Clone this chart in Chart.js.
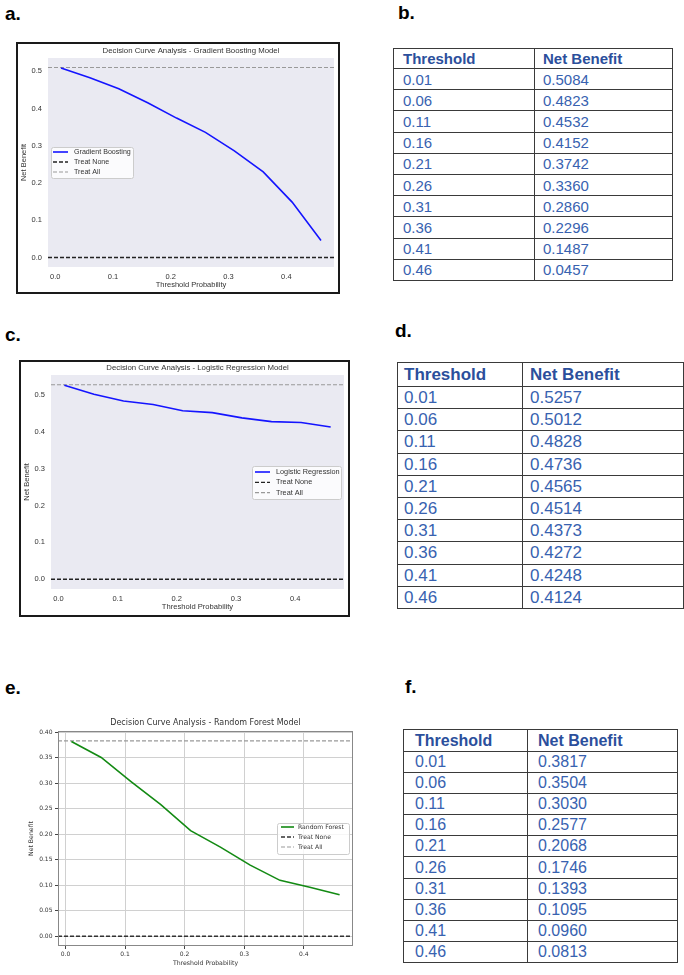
<!DOCTYPE html>
<html>
<head>
<meta charset="utf-8">
<script src="https://cdn.jsdelivr.net/npm/chart.js@4.4.0/dist/chart.umd.min.js"></script>
<style>
  body { margin: 0; width: 684px; height: 975px; position: relative; overflow: hidden; background: #fff;
         font-family: "Liberation Sans", Arial, sans-serif; }
  .tag { position: absolute; font-weight: bold; font-size: 19px; line-height: 1; color: #000; }
  .frame { position: absolute; border: 2px solid #1a1a1a; box-sizing: border-box; background: #fff; }
  canvas { display: block; }
  .plain { position: absolute; }
  table.tbl { position: absolute; border-collapse: collapse; table-layout: fixed; color: #3862b0; }
  table.tbl td { border: 1px solid #3a3a3a; padding: 0; white-space: nowrap; vertical-align: middle; line-height: 1; }
  table.tbl tr.hd td { font-weight: bold; color: #2b4f9c; }
</style>
</head>
<body>

<div class="tag" style="left:5px;top:4px">a.</div>
<div class="tag" style="left:398px;top:3px">b.</div>
<div class="tag" style="left:5px;top:325px">c.</div>
<div class="tag" style="left:395px;top:321px">d.</div>
<div class="tag" style="left:5px;top:678px">e.</div>
<div class="tag" style="left:405px;top:677px">f.</div>

<div class="frame" style="left:16px;top:42px;width:324px;height:252px"><canvas id="chartGB" width="320" height="248"></canvas></div>
<div class="frame" style="left:19px;top:360px;width:331px;height:257px"><canvas id="chartLR" width="327" height="253"></canvas></div>
<div class="plain" style="left:20px;top:710px"><canvas id="chartRF" width="340" height="265"></canvas></div>

<table class="tbl" id="tblGB"></table>
<table class="tbl" id="tblLR"></table>
<table class="tbl" id="tblRF"></table>

<script>
// =======================================================
// DADOS
// =======================================================
const thresholds = [0.01, 0.06, 0.11, 0.16, 0.21, 0.26, 0.31, 0.36, 0.41, 0.46];
const netBenefitGB = [0.5084, 0.4823, 0.4532, 0.4152, 0.3742, 0.3360, 0.2860, 0.2296, 0.1487, 0.0457];
const netBenefitLR = [0.5257, 0.5012, 0.4828, 0.4736, 0.4565, 0.4514, 0.4373, 0.4272, 0.4248, 0.4124];
const netBenefitRF = [0.3817, 0.3504, 0.3030, 0.2577, 0.2068, 0.1746, 0.1393, 0.1095, 0.0960, 0.0813];

const treatAllGB = 0.510;
const treatAllLR = 0.527;
const treatAllRF = 0.383;
const treatNone = 0;

// eixos
const xMin = -0.0125, xMax = 0.4825;
const xTicks = [0.0, 0.1, 0.2, 0.3, 0.4];
const yTicksGB = [0.0, 0.1, 0.2, 0.3, 0.4, 0.5];
const yTicksLR = [0.0, 0.1, 0.2, 0.3, 0.4, 0.5];
const yTicksRF = [0.00, 0.05, 0.10, 0.15, 0.20, 0.25, 0.30, 0.35, 0.40];

// =======================================================
// PLUGIN: fundo, moldura, título e legenda estilo matplotlib
// =======================================================
const dcaDecor = {
    id: 'dcaDecor',
    beforeDraw(chart, args, opts) {
        const { ctx, chartArea: a } = chart;
        if (opts.plotBg) {
            ctx.save();
            ctx.fillStyle = opts.plotBg;
            ctx.fillRect(a.left, a.top, a.right - a.left, a.bottom - a.top);
            ctx.restore();
        }
    },
    afterDraw(chart, args, opts) {
        const { ctx, chartArea: a } = chart;
        ctx.save();
        if (opts.spine) {
            ctx.strokeStyle = opts.spine;
            ctx.lineWidth = 1;
            ctx.strokeRect(a.left + 0.5, a.top + 0.5, a.right - a.left - 1, a.bottom - a.top - 1);
        }
        // título centrado sobre a área do gráfico
        ctx.font = opts.titleFont;
        ctx.fillStyle = opts.textColor;
        ctx.textAlign = 'center';
        ctx.textBaseline = 'middle';
        ctx.fillText(opts.title, (a.left + a.right) / 2, a.top - opts.titleGap);

        // legenda
        const L = opts.legend;
        ctx.fillStyle = 'rgba(255,255,255,0.8)';
        ctx.strokeStyle = '#cccccc';
        ctx.lineWidth = 1;
        ctx.beginPath();
        ctx.roundRect(L.x + 0.5, L.y + 0.5, L.w, L.h, 2);
        ctx.fill();
        ctx.stroke();
        ctx.font = L.font;
        ctx.textAlign = 'left';
        chart.data.datasets.forEach((ds, i) => {
            const y = L.y + L.first + i * L.step;
            ctx.strokeStyle = ds.borderColor;
            ctx.lineWidth = ds.borderWidth;
            ctx.setLineDash(ds.borderDash || []);
            ctx.beginPath();
            ctx.moveTo(L.x + L.s0, y);
            ctx.lineTo(L.x + L.s1, y);
            ctx.stroke();
            ctx.setLineDash([]);
            ctx.fillStyle = opts.textColor;
            ctx.fillText(ds.label, L.x + L.tx, y);
        });
        ctx.restore();
    }
};

function buildDatasets(label, color, values, treatAll, noneColor, allColor) {
    return [
        { label: label, data: thresholds.map((t, i) => ({ x: t, y: values[i] })),
          borderColor: color, borderWidth: 1.6 },
        { label: 'Treat None', data: [{ x: xMin, y: treatNone }, { x: xMax, y: treatNone }],
          borderColor: noneColor, borderWidth: 1.3, borderDash: [4, 2] },
        { label: 'Treat All', data: [{ x: xMin, y: treatAll }, { x: xMax, y: treatAll }],
          borderColor: allColor, borderWidth: 1.2, borderDash: [4, 2] }
    ];
}

function renderDcaChart(id, cfg) {
    const tickFont = { family: cfg.family, size: cfg.tickSize };
    const labelFont = { family: cfg.family, size: cfg.labelSize };
    const gridOpts = cfg.grid
        ? { display: true, color: '#d0d0d0', lineWidth: 1, drawTicks: true, tickLength: 3, tickColor: '#444' }
        : { display: false, drawTicks: false };

    new Chart(document.getElementById(id), {
        type: 'line',
        data: { datasets: cfg.datasets },
        options: {
            responsive: false,
            animation: false,
            events: [],
            layout: { padding: { top: cfg.padTop, right: cfg.padRight, left: 0, bottom: 0 } },
            elements: { point: { radius: 0 }, line: { tension: 0 } },
            scales: {
                x: {
                    type: 'linear', min: xMin, max: xMax,
                    afterBuildTicks: s => { s.ticks = xTicks.map(v => ({ value: v })); },
                    afterFit: s => { s.height = cfg.xAxisH; },
                    grid: gridOpts,
                    border: { display: false },
                    ticks: { font: tickFont, color: cfg.tickColor, padding: cfg.xTickPad, autoSkip: false,
                             maxRotation: 0, callback: v => v.toFixed(1) },
                    title: { display: true, text: 'Threshold Probability', font: labelFont, color: cfg.tickColor,
                             padding: { top: 0, bottom: cfg.xTitlePad } }
                },
                y: {
                    type: 'linear', min: cfg.yMin, max: cfg.yMax,
                    afterBuildTicks: s => { s.ticks = cfg.yTicks.map(v => ({ value: v })); },
                    afterFit: s => { s.width = cfg.yAxisW; },
                    grid: gridOpts,
                    border: { display: false },
                    ticks: { font: tickFont, color: cfg.tickColor, padding: cfg.yTickPad, autoSkip: false,
                             callback: v => v.toFixed(cfg.yDecimals) },
                    title: { display: true, text: 'Net Benefit', font: labelFont, color: cfg.tickColor,
                             padding: { top: cfg.yTitlePad, bottom: 0 } }
                }
            },
            plugins: {
                legend: { display: false },
                tooltip: { enabled: false },
                dcaDecor: {
                    plotBg: cfg.plotBg, spine: cfg.spine, title: cfg.title, titleFont: cfg.titleFont,
                    titleGap: cfg.titleGap, textColor: cfg.tickColor, legend: cfg.legend
                }
            }
        },
        plugins: [dcaDecor]
    });
}

// a. Gradient Boosting
renderDcaChart('chartGB', {
    datasets: buildDatasets('Gradient Boosting', '#1414ff', netBenefitGB, treatAllGB, '#222', '#999'),
    family: '"Liberation Sans", Arial, sans-serif', tickSize: 7.5, labelSize: 7.5, tickColor: '#333',
    title: 'Decision Curve Analysis - Gradient Boosting Model', titleFont: '7.8px "Liberation Sans", Arial, sans-serif',
    titleGap: 7, plotBg: '#eaeaf2', spine: null, grid: false,
    padTop: 14, padRight: 4, yAxisW: 30, xAxisH: 25,
    yMin: -0.0255, yMax: 0.5355, yTicks: yTicksGB, yDecimals: 1,
    xTickPad: 5, yTickPad: 6, xTitlePad: 2.5, yTitlePad: 1.5,
    legend: { x: 33, y: 103, w: 82, h: 31, first: 5, step: 10, s0: 2, s1: 17, tx: 23,
              font: '7.1px "Liberation Sans", Arial, sans-serif' }
});

// c. Logistic Regression
renderDcaChart('chartLR', {
    datasets: buildDatasets('Logistic Regression', '#1414ff', netBenefitLR, treatAllLR, '#222', '#999'),
    family: '"Liberation Sans", Arial, sans-serif', tickSize: 7.5, labelSize: 7.6, tickColor: '#333',
    title: 'Decision Curve Analysis - Logistic Regression Model', titleFont: '7.8px "Liberation Sans", Arial, sans-serif',
    titleGap: 7, plotBg: '#eaeaf2', spine: null, grid: false,
    padTop: 13, padRight: 4, yAxisW: 30, xAxisH: 26,
    yMin: -0.02635, yMax: 0.5534, yTicks: yTicksLR, yDecimals: 1,
    xTickPad: 5, yTickPad: 6, xTitlePad: 3.2, yTitlePad: 1.5,
    legend: { x: 231, y: 104, w: 89, h: 33, first: 6, step: 10.3, s0: 3, s1: 18, tx: 24,
              font: '7.3px "Liberation Sans", Arial, sans-serif' }
});

// e. Random Forest
renderDcaChart('chartRF', {
    datasets: buildDatasets('Random Forest', '#138a13', netBenefitRF, treatAllRF, '#333', '#999'),
    family: '"DejaVu Sans", sans-serif', tickSize: 6, labelSize: 6.2, tickColor: '#333',
    title: 'Decision Curve Analysis - Random Forest Model', titleFont: '8px "DejaVu Sans", sans-serif',
    titleGap: 8, plotBg: null, spine: '#888', grid: true,
    padTop: 21, padRight: 7, yAxisW: 38, xAxisH: 29,
    yMin: -0.01915, yMax: 0.4022, yTicks: yTicksRF, yDecimals: 2,
    xTickPad: 2, yTickPad: 2.5, xTitlePad: 7.5, yTitlePad: 8,
    legend: { x: 257, y: 113, w: 72, h: 31, first: 4, step: 10, s0: 4, s1: 17, tx: 21,
              font: '6.1px "DejaVu Sans", sans-serif' }
});

// =======================================================
// TABELAS
// =======================================================
function renderTable(id, values, t) {
    const el = document.getElementById(id);
    Object.assign(el.style, { left: t.left + 'px', top: t.top + 'px', width: t.width + 'px', fontSize: t.font + 'px' });
    let html = `<colgroup><col style="width:${t.col1}px"><col></colgroup>`;
    html += `<tr class="hd" style="height:${t.headH}px"><td style="padding-left:${t.pad1}px">Threshold</td>` +
            `<td style="padding-left:${t.pad2}px">Net Benefit</td></tr>`;
    thresholds.forEach((th, i) => {
        html += `<tr style="height:${t.rowH}px"><td style="padding-left:${t.pad1}px">${th.toFixed(2)}</td>` +
                `<td style="padding-left:${t.pad2}px">${values[i].toFixed(4)}</td></tr>`;
    });
    el.innerHTML = html;
}

renderTable('tblGB', netBenefitGB, { left: 393, top: 48, width: 280, col1: 141, headH: 20, rowH: 21.2, font: 15, pad1: 9, pad2: 8 });
renderTable('tblLR', netBenefitLR, { left: 397, top: 362, width: 287, col1: 125, headH: 24, rowH: 22.2, font: 17, pad1: 6, pad2: 7 });
renderTable('tblRF', netBenefitRF, { left: 403, top: 729, width: 275, col1: 124, headH: 22, rowH: 21.1, font: 16, pad1: 11, pad2: 10 });
</script>
</body>
</html>
